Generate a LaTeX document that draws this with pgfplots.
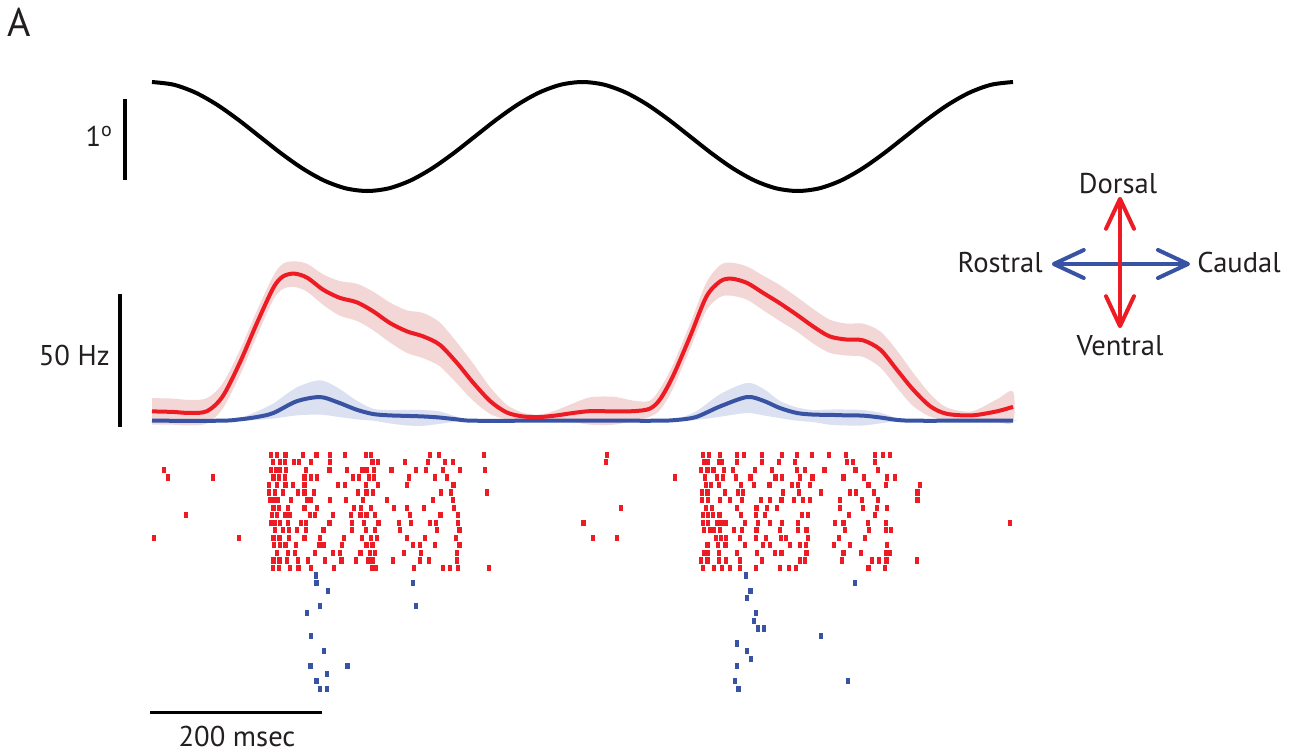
\documentclass[border=0pt]{standalone}
\usepackage{pgfplots}
\usepackage{pgfplotstable}
\pgfplotsset{compat=1.18}
\usetikzlibrary{arrows.meta}
\usepackage{fontspec}
\setmainfont{PT Sans}
\definecolor{rline}{RGB}{237,28,36}
\definecolor{rband}{RGB}{243,214,214}
\definecolor{bline}{RGB}{57,83,164}
\definecolor{bband}{RGB}{219,225,240}
\definecolor{txt}{RGB}{35,31,32}

\pgfplotstableread{
t y
0 0.675
25 0.642
50 0.546
75 0.397
100 0.209
125 0
150 -0.209
175 -0.397
200 -0.546
225 -0.642
250 -0.675
275 -0.642
300 -0.546
325 -0.397
350 -0.209
375 0
400 0.209
425 0.397
450 0.546
475 0.642
500 0.675
525 0.642
550 0.546
575 0.397
600 0.209
625 0
650 -0.209
675 -0.397
700 -0.546
725 -0.642
750 -0.675
775 -0.642
800 -0.546
825 -0.397
850 -0.209
875 0
900 0.209
925 0.397
950 0.546
975 0.642
1000 0.675
}\stimulus

% mean rate, red (dorso-ventral)
\pgfplotstableread{
t r
0 3.5
24 3.3
44 2.9
64 3.6
82 9.1
102 21.8
122 36.8
141 50
152 54.2
165 55.3
180 53.8
199 49.2
218 46.2
238 44.5
257 41.1
276 36.8
296 33.6
315 31.7
334 28.6
354 21.8
373 14.3
393 7.3
412 3.1
431 1.6
451 1.4
470 2.0
489 2.9
509 3.6
536 3.5
560 3.6
578 4.5
590 8
605 16.7
625 31.7
644 46.7
660 52.4
673 53.4
691 51.8
710 48
729 44.2
749 39.8
768 35.4
787 31.7
807 30.5
826 30.2
846 26.7
865 19.2
884 11.7
904 5.4
923 2.6
952 2.0
981 3.5
1000 5.2
}\redrate

% red band: upper edge forward, lower edge backward
\pgfplotstableread{
t y
0 8.5
24 8.3
44 7.8
64 8.5
82 14
102 26.5
122 41.5
141 54.5
152 59
165 59.9
180 59
199 55
218 52.5
238 51.5
257 48.5
276 44.5
296 41.5
315 40.5
334 37
354 29.5
373 21.5
393 12.5
412 6
431 3
451 2.3
470 4
489 6.5
509 8.8
536 9
560 7.5
578 7.5
590 12
605 21
625 36.5
644 52
660 58.5
673 59.4
691 58
710 54.5
729 51
749 46.5
768 42
787 38
807 36.5
826 36.5
846 33.5
865 26.5
884 18
904 10
923 5
952 3.5
981 8
1000 11
1000 -0.5
981 -0.5
952 0.5
923 0.5
904 1.5
884 5.5
865 12.5
846 20
826 24
807 24.5
787 25.5
768 29
749 33.5
729 37.5
710 41.5
691 45.5
673 47
660 46.5
644 41.5
625 27
605 12
590 4
578 1.5
560 0
536 -1.5
509 -1.5
489 -0.5
470 0
451 0.5
431 0.3
412 0.5
393 2.5
373 7.5
354 14
334 20.5
315 23.5
296 25.5
276 29.5
257 34
238 37.5
218 39.5
199 43.5
180 48.5
165 50.3
152 49.5
141 45.5
122 32
102 17
82 4.5
64 -1.0
44 -1.8
24 -1.5
0 -1.5
}\redband

% mean rate, blue (rostro-caudal)
\pgfplotstableread{
t r
0 0
80 0
102 0.5
122 1.4
141 2.9
168 7.3
195 8.9
215 7
238 4.1
257 2.5
276 2.0
296 1.8
315 1.6
334 1.2
354 0.5
373 0
450 0
530 0
590 0
610 0.3
632 1.4
660 5.4
691 8.9
710 7.5
729 4.8
749 2.9
768 2.3
787 2.2
807 2.0
826 1.9
846 1.2
865 0.3
884 0
950 0
1000 0
}\bluerate

\pgfplotstableread{
t y
0 0.3
80 0.3
102 1
122 3.5
141 6.5
168 12.5
195 15.2
215 12.5
238 7.5
257 4.5
276 4
296 4.1
315 4
334 3.5
354 1.5
373 0.4
450 0.3
530 0.3
590 0.3
610 0.8
632 3.5
660 10
691 14.2
710 12
729 7.5
749 5
768 4
787 4.2
807 4.2
826 4
846 3
865 1
884 0.3
950 0.3
1000 0.3
1000 0
950 0
884 0
865 -0.2
846 -1
826 -1.8
807 -1.8
787 -1.5
768 -0.5
749 0
729 1
710 2
691 2.9
660 1.5
632 0.3
610 0
590 0
530 0
450 0
373 0
354 -0.3
334 -1.2
315 -1.9
296 -1.8
276 -1
257 0
238 0.5
215 1.5
195 2.3
168 2
141 0.8
122 0.3
102 0
80 0
0 0
}\blueband

\pgfplotsset{panel/.style={scale only axis, width=430.5pt, xmin=0, xmax=1000, hide axis, clip=false},
 spike/.style={only marks, mark=square*, mark size=1.3pt, line width=0.4pt, mark options={xscale=0.6, solid}}}

\begin{document}
\begin{tikzpicture}
\path[use as bounding box] (0pt,0pt) rectangle (645.5pt,376pt);
\node[anchor=north west, inner sep=0, font=\fontsize{20}{20}\selectfont, text=txt] at (3.5pt,372pt) {A};

% stimulus
\begin{axis}[panel, at={(76pt,280.5pt)}, anchor=south west, height=54.5pt, ymin=-0.675, ymax=0.675]
\addplot[black, line width=2pt, smooth] table[x=t,y=y] {\stimulus};
\addplot[black, line width=2pt] coordinates {(-31,-0.54) (-31,0.46)};
\node[anchor=base east, inner sep=0, font=\fontsize{14.3}{14.3}\selectfont, text=txt] at (axis cs:-45,-0.13) {1\textsuperscript{o}};
\end{axis}

% firing rate
\begin{axis}[panel, at={(76pt,159pt)}, anchor=south west, height=86.45pt, ymin=-5, ymax=60]
\addplot[fill=rband, draw=none, smooth] table[x=t,y=y] {\redband};
\addplot[fill=bband, draw=none, smooth] table[x=t,y=y] {\blueband};
\addplot[bline, line width=2pt, smooth] table[x=t,y=r] {\bluerate};
\addplot[rline, line width=2pt, smooth] table[x=t,y=r] {\redrate};
\addplot[black, line width=2pt] coordinates {(-37.2,-2.4) (-37.2,47.6)};
\node[anchor=base east, inner sep=0, font=\fontsize{14.3}{14.3}\selectfont, text=txt] at (axis cs:-48.8,20.9) {50 Hz};
\end{axis}

% raster
\begin{axis}[panel, at={(76pt,148.65pt)}, anchor=north west, height=117pt, ymin=1, ymax=32, y dir=reverse]
\addplot[rline, spike] coordinates {
(138,1)(145,1)(155,1)(175,1)(191,1)(207,1)(224,1)(248,1)(254,1)(323,1)(333,1)(385,1)(528,1)(640,1)(647,1)(660,1)(679,1)(687,1)(708,1)(732,1)(749,1)(766,1)(786,1)(806,1)(840,1)(849,1)(857,1)
(140,2)(149,2)(154,2)(165,2)(171,2)(185,2)(207,2)(256,2)(262,2)(294,2)(320,2)(340,2)(349,2)(527,2)(641,2)(646,2)(659,2)(662,2)(679,2)(708,2)(728,2)(747,2)(807,2)(814,2)(840,2)
(14,3)(138,3)(144,3)(149,3)(156,3)(179,3)(206,3)(226,3)(244,3)(249,3)(258,3)(278,3)(307,3)(318,3)(338,3)(358,3)(387,3)(638,3)(645,3)(652,3)(664,3)(675,3)(700,3)(720,3)(749,3)(758,3)(781,3)(817,3)(843,3)
(18,4)(71,4)(141,4)(147,4)(154,4)(177,4)(185,4)(192,4)(233,4)(240,4)(252,4)(258,4)(298,4)(329,4)(343,4)(607,4)(642,4)(656,4)(663,4)(678,4)(695,4)(724,4)(732,4)(752,4)(767,4)(803,4)(827,4)(854,4)(863,4)
(136,5)(145,5)(155,5)(164,5)(177,5)(216,5)(224,5)(248,5)(262,5)(296,5)(350,5)(643,5)(649,5)(658,5)(684,5)(699,5)(717,5)(743,5)(750,5)(764,5)(832,5)(852,5)(892,5)
(136,6)(143,6)(152,6)(169,6)(177,6)(188,6)(239,6)(249,6)(257,6)(336,6)(347,6)(389,6)(639,6)(645,6)(665,6)(680,6)(686,6)(733,6)(751,6)(777,6)(811,6)(818,6)(838,6)(889,6)
(137,7)(141,7)(146,7)(161,7)(180,7)(185,7)(207,7)(225,7)(245,7)(273,7)(326,7)(349,7)(639,7)(646,7)(660,7)(671,7)(685,7)(707,7)(718,7)(731,7)(746,7)(756,7)(764,7)(799,7)(825,7)(843,7)(889,7)
(141,8)(147,8)(158,8)(177,8)(192,8)(235,8)(243,8)(254,8)(281,8)(296,8)(316,8)(351,8)(545,8)(643,8)(650,8)(679,8)(702,8)(714,8)(726,8)(799,8)(826,8)(842,8)(854,8)
(39,9)(139,9)(145,9)(155,9)(160,9)(183,9)(189,9)(210,9)(231,9)(242,9)(249,9)(259,9)(300,9)(335,9)(355,9)(640,9)(646,9)(651,9)(659,9)(684,9)(701,9)(712,9)(755,9)(762,9)(809,9)(840,9)
(138,10)(143,10)(149,10)(158,10)(173,10)(179,10)(206,10)(232,10)(246,10)(263,10)(287,10)(301,10)(323,10)(330,10)(355,10)(501,10)(640,10)(646,10)(656,10)(661,10)(666,10)(689,10)(704,10)(718,10)(732,10)(750,10)(793,10)(803,10)(831,10)(852,10)(996,10)
(143,11)(152,11)(159,11)(168,11)(179,11)(199,11)(232,11)(248,11)(259,11)(288,11)(331,11)(357,11)(641,11)(648,11)(653,11)(660,11)(676,11)(685,11)(702,11)(729,11)(750,11)(760,11)(805,11)(833,11)(852,11)(858,11)
(2,12)(101,12)(141,12)(148,12)(159,12)(177,12)(195,12)(223,12)(244,12)(254,12)(261,12)(296,12)(317,12)(353,12)(512,12)(540,12)(655,12)(661,12)(667,12)(683,12)(701,12)(713,12)(730,12)(736,12)(762,12)(798,12)(828,12)
(142,13)(149,13)(155,13)(167,13)(194,13)(199,13)(221,13)(249,13)(256,13)(303,13)(311,13)(329,13)(357,13)(645,13)(657,13)(666,13)(689,13)(710,13)(718,13)(741,13)(753,13)(759,13)(792,13)(811,13)(854,13)
(145,14)(158,14)(166,14)(189,14)(210,14)(218,14)(242,14)(253,14)(259,14)(293,14)(312,14)(354,14)(641,14)(646,14)(658,14)(679,14)(703,14)(723,14)(731,14)(760,14)(803,14)(823,14)(852,14)(857,14)
(141,15)(148,15)(157,15)(169,15)(181,15)(201,15)(220,15)(237,15)(251,15)(256,15)(280,15)(311,15)(322,15)(354,15)(638,15)(645,15)(658,15)(667,15)(683,15)(708,15)(752,15)(758,15)(801,15)(836,15)(844,15)(853,15)(888,15)
(140,16)(147,16)(160,16)(170,16)(185,16)(211,16)(256,16)(260,16)(304,16)(338,16)(346,16)(355,16)(391,16)(640,16)(653,16)(662,16)(671,16)(683,16)(701,16)(729,16)(740,16)(748,16)(832,16)(851,16)
};
\addplot[bline, spike] coordinates {
(190,17)(690,17)
(191,18)(303,18)(816,18)
(204,19)(695,19)
(691,20)
(195,21)(306,21)
(180,22)(701,22)
(699,23)
(704,24)(711,24)
(185,25)(777,25)
(679,26)
(200,27)(691,27)
(696,28)
(184,29)(227,29)(679,29)
(203,30)
(191,31)(677,31)(808,31)
(195,32)(203,32)(681,32)
};
\addplot[black, line width=1.5pt] coordinates {(-2,35.1) (198,35.1)};
\node[anchor=base, inner sep=0, font=\fontsize{14.3}{14.3}\selectfont, text=txt] at (axis cs:98.7,39.7) {200 msec};
\end{axis}

% direction key
\tikzset{barb/.tip={Straight Barb[length=15pt,width=14pt,line width=2pt,round]}}
\draw[bline, line width=2pt, barb-barb] (525.9pt,244pt) -- (595pt,244pt);
\draw[rline, line width=2pt, barb-barb] (560pt,211.9pt) -- (560pt,277.6pt);
\begin{scope}[every node/.style={inner sep=0, font=\fontsize{14.3}{14.3}\selectfont, text=txt}]
\node[anchor=base] at (559pt,279.5pt) {Dorsal};
\node[anchor=base] at (560pt,198.5pt) {Ventral};
\node[anchor=base east] at (521.5pt,240pt) {Rostral};
\node[anchor=base west] at (598.5pt,240pt) {Caudal};
\end{scope}
\end{tikzpicture}
\end{document}
